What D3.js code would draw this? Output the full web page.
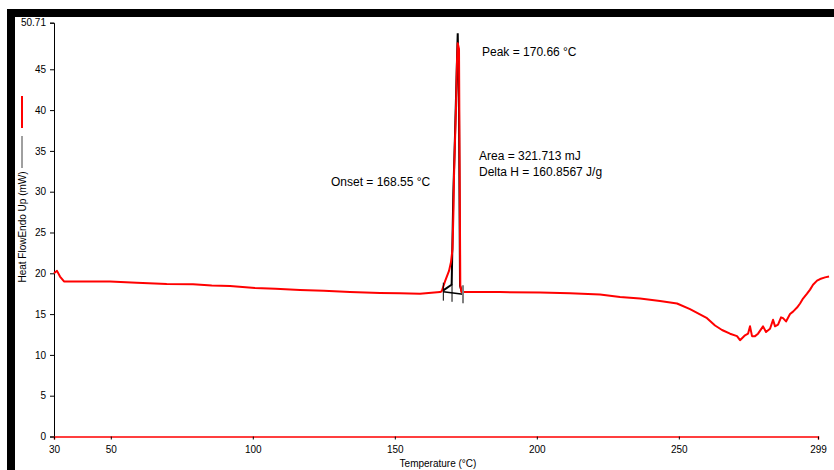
<!DOCTYPE html>
<html><head><meta charset="utf-8">
<script src="https://cdn.jsdelivr.net/npm/d3@7"></script>
<style>
html,body{margin:0;padding:0;background:#fff;}
svg{display:block;font-family:"Liberation Sans",Arial,sans-serif;}
</style></head>
<body>
<svg id="c" width="834" height="470"></svg>
<script>
// ---- data ----
const temps = [30.0,31.06,32.11,33.52,35.63,42.0,49.72,59.12,69.68,78.94,85.53,91.97,100.77,108.0,116.62,125.0,134.23,144.79,151.83,158.87,165.92,166.51,
  167.67,169.08,169.79,170.32,170.67,170.85,171.2,171.55,171.9,172.15,172.6,172.8,173.06,173.5,
  174.72,187.04,201.13,211.69,222.25,229.3,236.34,243.38,249.37,253.94,259.93,262.75,265.21,268.03,270.49,271.55,273.31,274.37,275.07,275.77,276.83,277.89,279.65,280.7,282.11,283.17,283.87,284.93,285.99,286.69,287.75,289.15,290.21,291.62,292.68,293.73,295.14,296.2,297.25,298.66,299.72,301.48,302.89];
const heatFlow = [20.0,20.3,19.6,19.0,19.0,19.0,19.0,18.85,18.7,18.65,18.5,18.45,18.2,18.1,17.95,17.85,17.7,17.6,17.55,17.5,17.7,17.8,
  19.0,20.3,21.4,23.0,28.0,32.0,36.3,40.3,46.0,48.2,47.5,34.5,18.5,17.7,
  17.7,17.7,17.65,17.55,17.4,17.1,16.9,16.6,16.3,15.6,14.5,13.6,13.05,12.6,12.3,11.8,12.4,12.6,13.5,12.3,12.3,12.6,13.5,12.8,13.2,14.3,13.5,13.7,14.6,14.5,14.1,15.0,15.3,15.8,16.3,16.9,17.5,18.0,18.6,19.1,19.3,19.5,19.6];
const peakTemps = [167.07,169.96,170.03,170.6,171.2,171.73,172.15,172.6,172.96,173.66];
const peakFlow  = [17.9,18.6,18.8,29.8,37.0,44.0,49.4,40.0,18.5,17.6];
const baseTemps = [167.08,174.01];
const baseFlow  = [17.75,17.43];
const markerTemps = [167.08,170.14,174.01];
const markerColors = ["#000","#000","#808080"];
const xTicks = [30,50,100,150,200,250,299];
const yTicks = [0,5,10,15,20,25,30,35,40,45,50.71];
const annotations = [
  {t:"Peak = 170.66 °C", x:482, y:56},
  {t:"Area = 321.713 mJ", x:479, y:160},
  {t:"Delta H = 160.8567 J/g", x:479, y:176},
  {t:"Onset = 168.55 °C", x:331, y:186}
];

// ---- chart ----
const svg = d3.select("#c");
const x = d3.scaleLinear().domain([30,299]).range([54,818]);
const y = d3.scaleLinear().domain([0,50.71]).range([436.5,22.7]);

// frame bars
svg.append("rect").attr("x",7).attr("y",9).attr("width",827).attr("height",8).attr("fill","#000");
svg.append("rect").attr("x",7).attr("y",9).attr("width",8).attr("height",461).attr("fill","#000");

// y axis
const yAxis = svg.append("g").attr("transform","translate(54,0)")
  .call(d3.axisLeft(y).tickValues(yTicks).tickSize(4).tickPadding(4).tickFormat(d=>d===50.71?"50.71":d3.format("d")(d)));
yAxis.select(".domain").attr("stroke","#000");
yAxis.selectAll("text").attr("font-size",10).attr("fill","#000").attr("font-family","Liberation Sans, Arial, sans-serif");

// x axis
const xAxis = svg.append("g").attr("transform","translate(0,436.5)")
  .call(d3.axisBottom(x).tickValues(xTicks).tickSize(3).tickPadding(6).tickFormat(d3.format("d")));
xAxis.select(".domain").attr("stroke","#ff0000").attr("stroke-width",1.5);
xAxis.selectAll("text").attr("font-size",10).attr("fill","#000").attr("font-family","Liberation Sans, Arial, sans-serif");

// titles
svg.append("text").attr("x",438).attr("y",467).attr("text-anchor","middle").attr("font-size",10).text("Temperature (°C)");
svg.append("text").attr("transform","translate(26,227) rotate(-90)").attr("text-anchor","middle").attr("font-size",10).text("Heat FlowEndo Up (mW)");

// legend marks
svg.append("line").attr("x1",22).attr("x2",22).attr("y1",96).attr("y2",128).attr("stroke","#ff0000").attr("stroke-width",2);
svg.append("line").attr("x1",22).attr("x2",22).attr("y1",136).attr("y2",168).attr("stroke","#404040").attr("stroke-width",1);

const line = d3.line().x(d=>x(d[0])).y(d=>y(d[1]));

// black peak series
svg.append("path").datum(d3.zip(peakTemps,peakFlow)).attr("d",line)
  .attr("fill","none").attr("stroke","#000").attr("stroke-width",2);

// red main series
svg.append("path").datum(d3.zip(temps,heatFlow)).attr("d",line)
  .attr("fill","none").attr("stroke","#ff0000").attr("stroke-width",2).attr("stroke-linejoin","round");

// baseline + markers
svg.append("path").datum(d3.zip(baseTemps,baseFlow)).attr("d",line)
  .attr("fill","none").attr("stroke","#000").attr("stroke-width",1.5);
markerTemps.forEach((t,i)=>{
  const yy = y(d3.interpolateNumber(baseFlow[0],baseFlow[1])((t-baseTemps[0])/(baseTemps[1]-baseTemps[0])));
  svg.append("line").attr("x1",x(t)).attr("x2",x(t)).attr("y1",yy-9).attr("y2",yy+9)
    .attr("stroke",markerColors[i]).attr("stroke-width",i===2?2:1);
});

// annotations
svg.selectAll("text.ann").data(annotations).enter().append("text").attr("class","ann")
  .attr("x",d=>d.x).attr("y",d=>d.y).attr("font-size",12).attr("fill","#000").text(d=>d.t);
</script>
</body></html>
